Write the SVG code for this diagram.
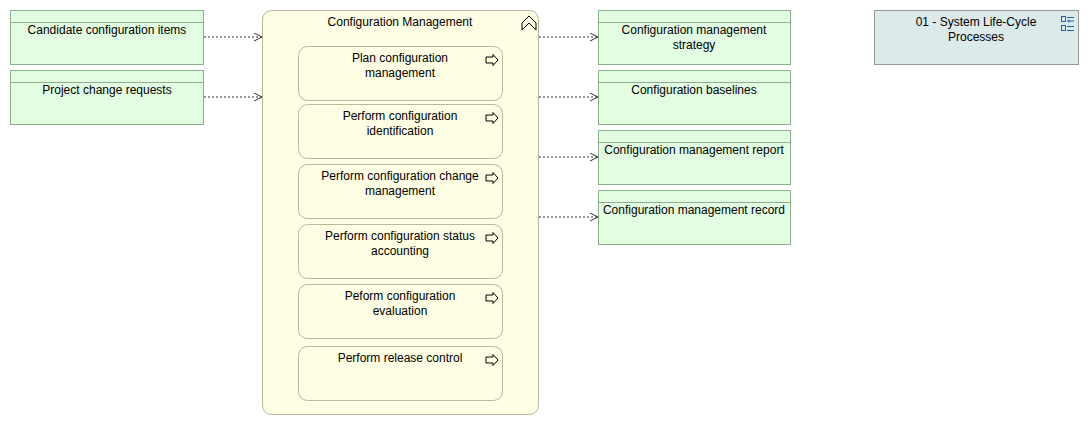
<svg xmlns="http://www.w3.org/2000/svg" width="1089" height="425" viewBox="0 0 1089 425">
<style>
text{font-family:"Liberation Sans",Arial,sans-serif;font-size:12px;fill:#000;text-anchor:middle}
.do{fill:#e3fde3;stroke:#8fb08f;stroke-width:1}
.pr{fill:#fefee4;stroke:#b8b89a;stroke-width:1}
.c{fill:none;stroke:#333;stroke-width:1;stroke-dasharray:2,2}
.ic{fill:none;stroke:#000;stroke-width:1}
</style>
<defs>
<marker id="a" markerWidth="10" markerHeight="10" refX="8" refY="4" orient="auto" markerUnits="userSpaceOnUse"><path d="M0,0 L8,4 L0,8" fill="none" stroke="#333"/></marker>
<path id="ar" d="M0,-3 h7 v-2.5 l5,5.5 l-5,5.5 v-2.5 h-7 z"/>
</defs>
<g id="connectors">
<path class="c" d="M204,37 H262" marker-end="url(#a)"/>
<path class="c" d="M204,97 H262" marker-end="url(#a)"/>
<path class="c" d="M539,37 H598" marker-end="url(#a)"/>
<path class="c" d="M539,97 H598" marker-end="url(#a)"/>
<path class="c" d="M539,157 H598" marker-end="url(#a)"/>
<path class="c" d="M539,217 H598" marker-end="url(#a)"/>
</g>
<g id="in1"><rect class="do" x="10.5" y="10.5" width="193" height="54"/><path class="do" d="M10.5,22.5 H203.5"/><text x="107" y="34">Candidate configuration items</text></g>
<g id="in2"><rect class="do" x="10.5" y="70.5" width="193" height="54"/><path class="do" d="M10.5,82.5 H203.5"/><text x="107" y="94">Project change requests</text></g>
<g id="cm"><rect class="pr" x="262.5" y="10.5" width="276" height="404" rx="9"/><text x="400" y="26">Configuration Management</text>
<path class="ic" d="M522,30 V23 L529,16 L536,23 V30 L529,23 Z"/></g>
<g id="p1"><rect class="pr" x="298.5" y="46.5" width="204" height="54" rx="9"/><text x="400" y="62">Plan configuration</text><text x="400" y="77">management</text><use href="#ar" x="486" y="60" class="ic"/></g>
<g id="p2"><rect class="pr" x="298.5" y="104.5" width="204" height="54" rx="9"/><text x="400" y="120">Perform configuration</text><text x="400" y="135">identification</text><use href="#ar" x="486" y="118" class="ic"/></g>
<g id="p3"><rect class="pr" x="298.5" y="164.5" width="204" height="54" rx="9"/><text x="400" y="180">Perform configuration change</text><text x="400" y="195">management</text><use href="#ar" x="486" y="178" class="ic"/></g>
<g id="p4"><rect class="pr" x="298.5" y="224.5" width="204" height="54" rx="9"/><text x="400" y="240">Perform configuration status</text><text x="400" y="255">accounting</text><use href="#ar" x="486" y="238" class="ic"/></g>
<g id="p5"><rect class="pr" x="298.5" y="284.5" width="204" height="54" rx="9"/><text x="400" y="300">Peform configuration</text><text x="400" y="315">evaluation</text><use href="#ar" x="486" y="298" class="ic"/></g>
<g id="p6"><rect class="pr" x="298.5" y="346.5" width="204" height="54" rx="9"/><text x="400" y="362">Perform release control</text><use href="#ar" x="486" y="360" class="ic"/></g>
<g id="o1"><rect class="do" x="598.5" y="10.5" width="192" height="54"/><path class="do" d="M598.5,22.5 H790.5"/><text x="694" y="34">Configuration management</text><text x="694" y="49">strategy</text></g>
<g id="o2"><rect class="do" x="598.5" y="70.5" width="192" height="54"/><path class="do" d="M598.5,82.5 H790.5"/><text x="694" y="94">Configuration baselines</text></g>
<g id="o3"><rect class="do" x="598.5" y="130.5" width="192" height="54"/><path class="do" d="M598.5,142.5 H790.5"/><text x="694" y="154">Configuration management report</text></g>
<g id="o4"><rect class="do" x="598.5" y="190.5" width="192" height="54"/><path class="do" d="M598.5,202.5 H790.5"/><text x="694" y="214">Configuration management record</text></g>
<g id="grp"><rect x="874.5" y="10.5" width="204" height="54" fill="#dceaea" stroke="#999"/><text x="976" y="26">01 - System Life-Cycle</text><text x="976" y="41">Processes</text>
<g fill="none" stroke="#2a5db0" stroke-width="1"><rect x="1061.5" y="16.5" width="4" height="5"/><rect x="1061.5" y="25.5" width="4" height="5"/><path d="M1067,17.5 h7 M1067,21 h7 M1069,19.5 v3 M1067,26.5 h7 M1067,30.5 h7"/></g></g>
</svg>
